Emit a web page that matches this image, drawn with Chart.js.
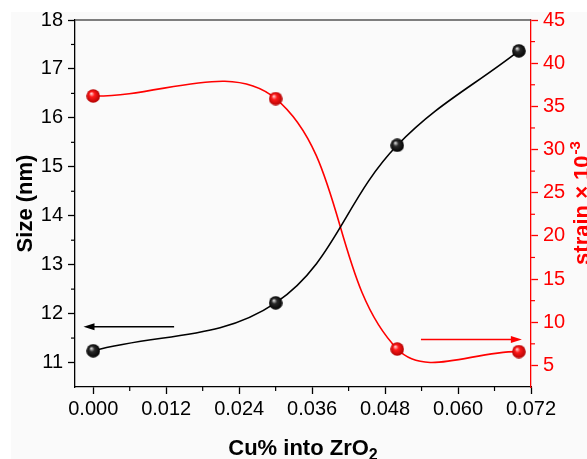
<!DOCTYPE html>
<html>
<head>
<title>Size and strain vs Cu% into ZrO2</title>
<script src="https://cdn.jsdelivr.net/npm/chart.js"></script>
<style>
  html, body { margin: 0; padding: 0; overflow: hidden; background: #fff; }
  #wrap { width: 600px; height: 459px; }
</style>
</head>
<body>
<div id="wrap"><canvas id="myChart" width="600" height="459"></canvas></div>
<script>
const cuFraction = [0, 0.03, 0.05, 0.07];
const sizeNm = [11.24, 12.22, 15.44, 17.37];
const strain = [36.2, 35.9, 6.9, 6.6];

const xTicks = [0, 0.012, 0.024, 0.036, 0.048, 0.06, 0.072];
const xMinorTicks = [0.006, 0.018, 0.03, 0.042, 0.054, 0.066];
const sizeTicks = [11, 12, 13, 14, 15, 16, 17, 18];
const sizeMinorTicks = [11.5, 12.5, 13.5, 14.5, 15.5, 16.5, 17.5];
const strainTicks = [5, 10, 15, 20, 25, 30, 35, 40, 45];
const strainMinorTicks = [7.5, 12.5, 17.5, 22.5, 27.5, 32.5, 37.5, 42.5];

// arrows telling which axis each curve belongs to: [tail, head] in x, at a fixed y
const sizeArrowX = [0.0133, -0.0016];
const sizeArrowY = 11.73;
const strainArrowX = [0.0539, 0.0705];
const strainArrowY = 8;

const FONT = 'Arial, "Liberation Sans", sans-serif';

function sphere(light, mid, dark) {
    const c = document.createElement('canvas');
    c.width = 14; c.height = 14;
    const g = c.getContext('2d');
    const grad = g.createRadialGradient(5, 4.5, 0.3, 7, 7, 7);
    grad.addColorStop(0, light);
    grad.addColorStop(0.35, mid);
    grad.addColorStop(1, dark);
    g.fillStyle = grad;
    g.beginPath();
    g.arc(7, 7, 6.8, 0, Math.PI * 2);
    g.fill();
    return c;
}
const blackBall = sphere('#e0e0e0', '#2a2a2a', '#000000');
const redBall = sphere('#ffd4d4', '#ff1a1a', '#b00000');

function drawArrow(ctx, x1, x2, y, color) {
    const dir = Math.sign(x2 - x1);
    ctx.strokeStyle = color;
    ctx.fillStyle = color;
    ctx.lineWidth = 1.5;
    ctx.beginPath();
    ctx.moveTo(x1, y);
    ctx.lineTo(x2 - dir * 8, y);
    ctx.stroke();
    ctx.beginPath();
    ctx.moveTo(x2, y);
    ctx.lineTo(x2 - dir * 11, y - 3.5);
    ctx.lineTo(x2 - dir * 11, y + 3.5);
    ctx.closePath();
    ctx.fill();
}

const decorations = {
    id: 'decorations',
    beforeDraw(chart) {
        const ctx = chart.ctx;
        ctx.save();
        ctx.fillStyle = '#ffffff';
        ctx.fillRect(0, 0, chart.width, chart.height);
        ctx.fillStyle = '#fafafa';
        ctx.fillRect(11, 12, chart.width - 11, chart.height - 12);
        ctx.restore();
    },
    afterDraw(chart) {
        const ctx = chart.ctx;
        const a = chart.chartArea;
        const x = chart.scales.x, yl = chart.scales.y, yr = chart.scales.y1;
        ctx.save();

        // top frame
        ctx.strokeStyle = '#555';
        ctx.lineWidth = 1.3;
        ctx.beginPath();
        ctx.moveTo(a.left, a.top);
        ctx.lineTo(a.right, a.top);
        ctx.stroke();

        // minor ticks
        function tick(x1, y1, x2, y2) {
            ctx.beginPath(); ctx.moveTo(x1, y1); ctx.lineTo(x2, y2); ctx.stroke();
        }
        ctx.strokeStyle = '#000';
        ctx.lineWidth = 1.2;
        xMinorTicks.forEach(v => { const p = x.getPixelForValue(v); tick(p, a.bottom, p, a.bottom + 4); });
        sizeMinorTicks.forEach(v => { const p = yl.getPixelForValue(v); tick(a.left, p, a.left - 4, p); });
        ctx.strokeStyle = '#ff0000';
        strainMinorTicks.forEach(v => { const p = yr.getPixelForValue(v); tick(a.right, p, a.right + 4, p); });

        // arrows
        drawArrow(ctx, x.getPixelForValue(sizeArrowX[0]), x.getPixelForValue(sizeArrowX[1]),
                  yl.getPixelForValue(sizeArrowY), '#000');
        drawArrow(ctx, x.getPixelForValue(strainArrowX[0]), x.getPixelForValue(strainArrowX[1]),
                  yr.getPixelForValue(strainArrowY), '#ff0000');

        const cy = (a.top + a.bottom) / 2;
        const cx = (a.left + a.right) / 2;

        // left title
        ctx.fillStyle = '#000';
        ctx.font = 'bold 22px ' + FONT;
        ctx.textAlign = 'center';
        ctx.textBaseline = 'alphabetic';
        ctx.save();
        ctx.translate(32, cy);
        ctx.rotate(-Math.PI / 2);
        ctx.fillText('Size (nm)', 0, 0);
        ctx.restore();

        // bottom title with subscript
        ctx.textAlign = 'left';
        const main = 'Cu% into ZrO';
        ctx.font = 'bold 22px ' + FONT;
        const w1 = ctx.measureText(main).width;
        ctx.font = 'bold 16px ' + FONT;
        const w2 = ctx.measureText('2').width;
        const x0 = cx - (w1 + w2) / 2;
        ctx.font = 'bold 22px ' + FONT;
        ctx.fillText(main, x0, 455);
        ctx.font = 'bold 16px ' + FONT;
        ctx.fillText('2', x0 + w1, 460);

        // right title with superscript
        ctx.fillStyle = '#ff0000';
        ctx.save();
        ctx.translate(589, cy);
        ctx.rotate(-Math.PI / 2);
        const rmain = 'strain \u00d7 10';
        ctx.font = 'bold 22px ' + FONT;
        const r1 = ctx.measureText(rmain).width;
        ctx.font = 'bold 15px ' + FONT;
        const r2 = ctx.measureText('-3').width;
        const rx0 = -(r1 + r2) / 2;
        ctx.font = 'bold 22px ' + FONT;
        ctx.fillText(rmain, rx0, 0);
        ctx.font = 'bold 15px ' + FONT;
        ctx.fillText('-3', rx0 + r1 + 1, -9);
        ctx.restore();

        ctx.restore();
    }
};

function fixedTicks(list) {
    return function (scale) { scale.ticks = list.map(v => ({ value: v })); };
}

const ctx = document.getElementById('myChart').getContext('2d');
new Chart(ctx, {
    type: 'line',
    data: {
        datasets: [{
            label: 'Size (nm)',
            data: cuFraction.map((v, i) => ({ x: v, y: sizeNm[i] })),
            yAxisID: 'y',
            borderColor: '#000',
            borderWidth: 1.6,
            tension: 0.38,
            pointStyle: blackBall,
            pointRadius: 7
        }, {
            label: 'strain',
            data: cuFraction.map((v, i) => ({ x: v, y: strain[i] })),
            yAxisID: 'y1',
            borderColor: '#ff0000',
            borderWidth: 1.6,
            tension: 0.38,
            pointStyle: redBall,
            pointRadius: 7
        }]
    },
    options: {
        responsive: false,
        animation: false,
        layout: { padding: { top: 20, left: 0, right: 0, bottom: 0 } },
        plugins: { legend: { display: false }, tooltip: { enabled: false } },
        scales: {
            x: {
                type: 'linear',
                position: 'bottom',
                min: -0.003,
                max: 0.072,
                afterBuildTicks: fixedTicks(xTicks),
                afterFit: s => { s.height = 72; },
                ticks: {
                    autoSkip: false,
                    maxRotation: 0,
                    padding: 3,
                    color: '#000',
                    font: { family: FONT, size: 20 },
                    callback: v => Number(v).toFixed(3)
                },
                grid: { drawOnChartArea: false, tickLength: 7, tickColor: '#000', tickWidth: 1.3 },
                border: { color: '#000', width: 1.3 }
            },
            y: {
                type: 'linear',
                position: 'left',
                min: 10.5,
                max: 18,
                afterBuildTicks: fixedTicks(sizeTicks),
                afterFit: s => { s.width = 75; },
                ticks: {
                    autoSkip: false,
                    padding: 5,
                    color: '#000',
                    font: { family: FONT, size: 20 }
                },
                grid: { drawOnChartArea: false, tickLength: 7, tickColor: '#000', tickWidth: 1.3 },
                border: { color: '#000', width: 1.3 }
            },
            y1: {
                type: 'linear',
                position: 'right',
                min: 2.5,
                max: 45,
                afterBuildTicks: fixedTicks(strainTicks),
                afterFit: s => { s.width = 69; },
                ticks: {
                    autoSkip: false,
                    padding: 5,
                    color: '#ff0000',
                    font: { family: FONT, size: 20 }
                },
                grid: { drawOnChartArea: false, tickLength: 7, tickColor: '#ff0000', tickWidth: 1.3 },
                border: { color: '#ff0000', width: 1.3 }
            }
        }
    },
    plugins: [decorations]
});
</script>
</body>
</html>
